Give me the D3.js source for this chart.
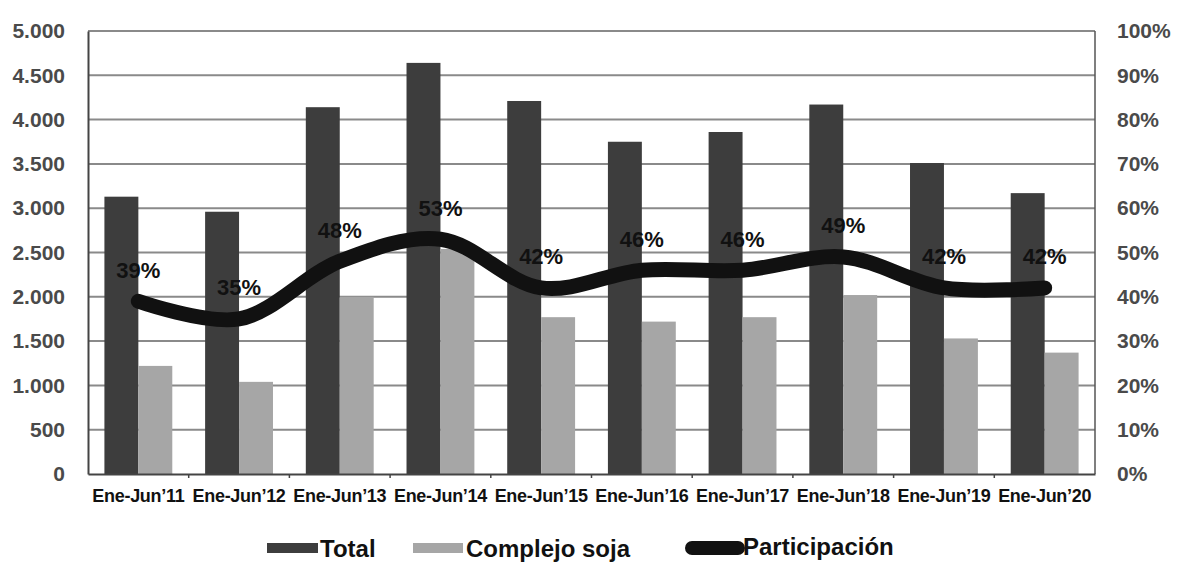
<!DOCTYPE html>
<html>
<head>
<meta charset="utf-8">
<script src="https://cdn.jsdelivr.net/npm/d3@7"></script>
<style>
  body { margin: 0; background: #fff; }
  svg { display: block; font-family: Arial, "Liberation Sans", sans-serif; }
</style>
</head>
<body>
<div id="chart"></div>
<script>
// data
var periods = ["Ene-Jun’11", "Ene-Jun’12", "Ene-Jun’13", "Ene-Jun’14", "Ene-Jun’15",
               "Ene-Jun’16", "Ene-Jun’17", "Ene-Jun’18", "Ene-Jun’19", "Ene-Jun’20"];
var total = [3130, 2960, 4140, 4640, 4210, 3750, 3860, 4170, 3510, 3170];
var soja = [1220, 1040, 2000, 2540, 1770, 1720, 1770, 2020, 1530, 1370];
var participacion = [39, 35, 48, 53, 42, 46, 46, 49, 42, 42];
var leftTicks = [0, 500, 1000, 1500, 2000, 2500, 3000, 3500, 4000, 4500, 5000];
var rightTicks = [0, 10, 20, 30, 40, 50, 60, 70, 80, 90, 100];
var seriesNames = ["Total", "Complejo soja", "Participación"];

function draw_chart(select_) {
    var width = 1184, height = 578;
    var plot = {left: 88, right: 1095, top: 31, bottom: 474};

    var svg = d3.select(select_)
        .append("svg")
        .attr("width", width)
        .attr("height", height);

    var x0 = d3.scaleBand()
        .domain(periods)
        .range([plot.left, plot.right])
        .paddingInner(0.326)
        .paddingOuter(0.163);

    var x1 = d3.scaleBand()
        .domain(["total", "soja"])
        .range([0, x0.bandwidth()]);

    var yLeft = d3.scaleLinear()
        .domain([0, 5000])
        .range([plot.bottom, plot.top]);

    var yRight = d3.scaleLinear()
        .domain([0, 100])
        .range([plot.bottom, plot.top]);

    var fmt = function(v) { return d3.format(",")(v).replace(/,/g, "."); };

    // gridlines
    svg.append("g")
        .selectAll("line")
        .data(leftTicks.slice(1))
        .enter()
        .append("line")
        .attr("x1", plot.left)
        .attr("x2", plot.right)
        .attr("y1", d => yLeft(d))
        .attr("y2", d => yLeft(d))
        .attr("stroke", "#8a8a8a")
        .attr("stroke-width", 2);

    // right border
    svg.append("line")
        .attr("x1", plot.right).attr("x2", plot.right)
        .attr("y1", plot.top).attr("y2", plot.bottom)
        .attr("stroke", "#555")
        .attr("stroke-width", 1.5);

    // bars
    var groups = svg.append("g")
        .selectAll("g")
        .data(periods)
        .enter()
        .append("g")
        .attr("transform", d => "translate(" + x0(d) + ",0)");

    groups.append("rect")
        .attr("x", x1("total"))
        .attr("width", x1.bandwidth())
        .attr("y", (d, i) => yLeft(total[i]))
        .attr("height", (d, i) => yLeft(0) - yLeft(total[i]))
        .attr("fill", "#3d3d3d");

    groups.append("rect")
        .attr("x", x1("soja"))
        .attr("width", x1.bandwidth())
        .attr("y", (d, i) => yLeft(soja[i]))
        .attr("height", (d, i) => yLeft(0) - yLeft(soja[i]))
        .attr("fill", "#a6a6a6");

    // left axis
    var leftAxis = svg.append("g")
        .attr("transform", "translate(" + plot.left + ",0)")
        .call(d3.axisLeft(yLeft).tickValues(leftTicks).tickFormat(fmt).tickSize(0).tickPadding(23));
    leftAxis.select(".domain").attr("stroke", "#444").attr("stroke-width", 2);
    leftAxis.selectAll("text")
        .attr("font-size", 21)
        .attr("font-weight", "bold")
        .attr("fill", "#4a4a4a");

    // right axis
    var rightAxis = svg.append("g")
        .attr("transform", "translate(" + plot.right + ",0)")
        .call(d3.axisRight(yRight).tickValues(rightTicks).tickFormat(d => d + "%").tickSize(0).tickPadding(22));
    rightAxis.select(".domain").remove();
    rightAxis.selectAll("text")
        .attr("font-size", 21)
        .attr("font-weight", "bold")
        .attr("fill", "#4a4a4a");

    // bottom axis
    var bottomAxis = svg.append("g")
        .attr("transform", "translate(0," + plot.bottom + ")")
        .call(d3.axisBottom(x0).tickSize(0).tickPadding(15));
    bottomAxis.select(".domain").attr("stroke", "#444").attr("stroke-width", 2);
    bottomAxis.selectAll("text")
        .attr("font-size", 18)
        .attr("font-weight", "bold")
        .attr("letter-spacing", "-0.3px")
        .attr("fill", "#111");

    // small tick marks between categories
    svg.append("g")
        .selectAll("line")
        .data(periods.slice(1))
        .enter()
        .append("line")
        .attr("x1", d => x0(d) - x0.step() * x0.paddingInner() / 2)
        .attr("x2", d => x0(d) - x0.step() * x0.paddingInner() / 2)
        .attr("y1", plot.bottom)
        .attr("y2", plot.bottom + 4)
        .attr("stroke", "#444")
        .attr("stroke-width", 1.5);

    // participation line
    var cx = d => x0(d) + x0.bandwidth() / 2;
    var line = d3.line()
        .x((d, i) => cx(periods[i]))
        .y(d => yRight(d))
        .curve(d3.curveCatmullRom.alpha(0.5));

    svg.append("path")
        .datum(participacion)
        .attr("d", line)
        .attr("fill", "none")
        .attr("stroke", "#111")
        .attr("stroke-width", 15)
        .attr("stroke-linecap", "round");

    svg.append("g")
        .selectAll("text")
        .data(participacion)
        .enter()
        .append("text")
        .attr("x", (d, i) => cx(periods[i]))
        .attr("y", d => yRight(d) - 31)
        .attr("text-anchor", "middle")
        .attr("dominant-baseline", "central")
        .attr("font-size", 22)
        .attr("font-weight", "bold")
        .attr("fill", "#111")
        .text(d => d + "%");

    // legend
    var legend = svg.append("g").attr("transform", "translate(0,548)");
    legend.append("rect").attr("x", 267).attr("y", -5).attr("width", 51).attr("height", 10).attr("fill", "#3d3d3d");
    legend.append("text").attr("x", 320).attr("y", 0).attr("dominant-baseline", "central")
        .attr("font-size", 24).attr("font-weight", "bold").attr("fill", "#111").text(seriesNames[0]);

    legend.append("rect").attr("x", 413).attr("y", -5).attr("width", 50).attr("height", 10).attr("fill", "#a6a6a6");
    legend.append("text").attr("x", 466).attr("y", 0).attr("dominant-baseline", "central")
        .attr("font-size", 24).attr("font-weight", "bold").attr("fill", "#111").text(seriesNames[1]);

    legend.append("line").attr("x1", 692).attr("x2", 738).attr("y1", 0).attr("y2", 0)
        .attr("stroke", "#111").attr("stroke-width", 14).attr("stroke-linecap", "round");
    legend.append("text").attr("x", 743).attr("y", -2).attr("dominant-baseline", "central")
        .attr("font-size", 24).attr("font-weight", "bold").attr("fill", "#111").text(seriesNames[2]);
}

draw_chart("#chart");
</script>
</body>
</html>
